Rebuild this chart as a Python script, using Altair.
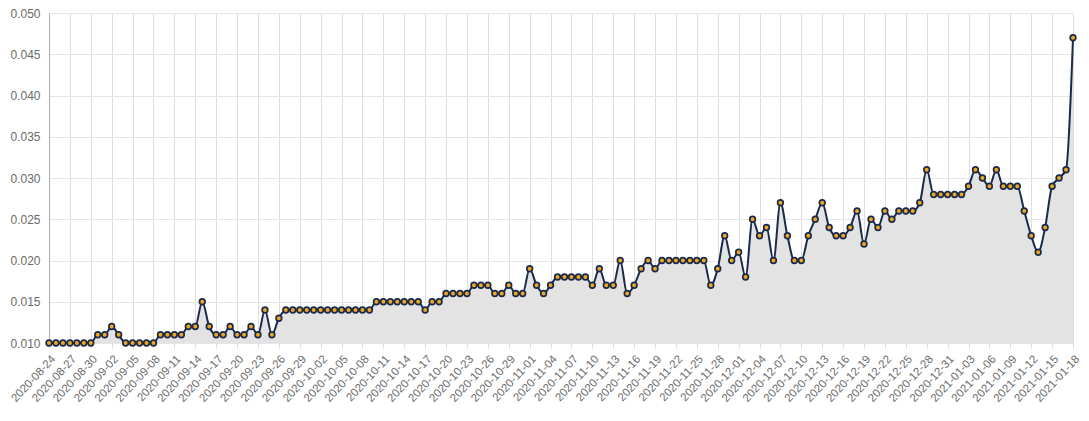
import altair as alt
import pandas as pd
import datetime as dt

start = dt.date(2020, 8, 24)

values = (
    [0.010] * 7 + [0.011, 0.011, 0.012, 0.011] + [0.010] * 5 + [0.011] * 4 +
    [0.012, 0.012, 0.015, 0.012, 0.011, 0.011, 0.012, 0.011, 0.011, 0.012, 0.011,
     0.014, 0.011, 0.013] + [0.014] * 13 + [0.015] * 7 + [0.014, 0.015, 0.015] +
    [0.016] * 4 + [0.017] * 3 + [0.016, 0.016, 0.017, 0.016, 0.016, 0.019, 0.017,
                                   0.016, 0.017] + [0.018] * 5 +
    [0.017, 0.019, 0.017, 0.017, 0.020, 0.016, 0.017, 0.019, 0.020, 0.019] +
    [0.020] * 7 +
    [0.017, 0.019, 0.023, 0.020, 0.021, 0.018, 0.025, 0.023, 0.024, 0.020, 0.027,
     0.023, 0.020, 0.020, 0.023, 0.025, 0.027, 0.024, 0.023, 0.023, 0.024, 0.026,
     0.022, 0.025, 0.024, 0.026, 0.025, 0.026, 0.026, 0.026, 0.027, 0.031] +
    [0.028] * 5 +
    [0.029, 0.031, 0.030, 0.029, 0.031, 0.029, 0.029, 0.029, 0.026, 0.023, 0.021,
     0.024, 0.029, 0.030, 0.031, 0.047]
)

dates = [(start + dt.timedelta(days=i)).isoformat() for i in range(len(values))]
tick_labels = dates[::3]
y_ticks = [0.010, 0.015, 0.020, 0.025, 0.030, 0.035, 0.040, 0.045, 0.050]

df = pd.DataFrame({"date": dates, "value": values})

FONT = "Liberation Sans"
NAVY = "#1a2a4c"
ORANGE = "#f2a81d"

x = alt.X(
    "date:O",
    sort=None,
    scale=alt.Scale(type="point", padding=0),
    axis=alt.Axis(
        values=tick_labels,
        title=None,
        labelAngle=-47,
        labelAlign="right",
        labelBaseline="top",
        labelFont=FONT,
        labelFontSize=11.5,
        labelColor="#6a6a6a",
        labelPadding=5,
        domain=False,
        grid=True,
        gridColor="#dddddd",
        tickColor="#dddddd",
        tickSize=5,
        labelOverlap=False,
    ),
)
y = alt.Y(
    "value:Q",
    scale=alt.Scale(domain=[0.010, 0.050], zero=False, nice=False),
    axis=alt.Axis(
        values=y_ticks,
        format=".3f",
        title=None,
        labelFont=FONT,
        labelFontSize=12,
        labelColor="#6a6a6a",
        labelPadding=9,
        ticks=False,
        domain=True,
        domainColor="#aaaaaa",
        gridColor="#e6e6e6",
    ),
)

base = alt.Chart(df)
area = base.mark_area(color="#e3e3e3", opacity=1, interpolate="monotone").encode(
    x=x, y=y, y2=alt.datum(0.010)
)
line = base.mark_line(color=NAVY, strokeWidth=2, interpolate="monotone").encode(x=x, y=y)
pts = base.mark_point(
    filled=True, fill=ORANGE, stroke=NAVY, strokeWidth=1.7, size=32, opacity=1
).encode(x=x, y=y)

chart = (
    alt.layer(area, line, pts)
    .properties(
        width=1024,
        height=330,
        autosize=alt.AutoSizeParams(type="none"),
        padding={"left": 41, "top": 5, "right": 8, "bottom": 68},
    )
    .configure_view(stroke=None)
)

chart.save("out.html", embed_options={"renderer": "svg", "actions": False})
